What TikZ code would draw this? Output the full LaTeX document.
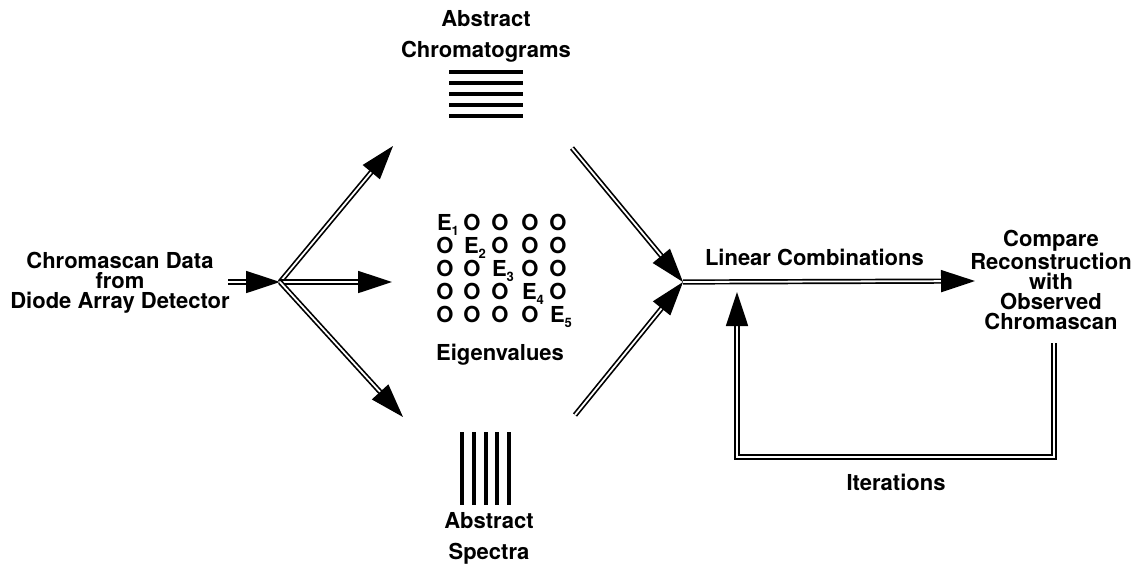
\documentclass[tikz,border=0pt]{standalone}
\usepackage{fontspec}
\setmainfont{TeX Gyre Heros}
\usetikzlibrary{arrows.meta}

\newcommand{\Ev}[1]{E\raisebox{-0.45ex}{\fontsize{6.5}{6.5}\selectfont #1}}

\begin{document}
\begin{tikzpicture}[x=0.5pt, y=-0.5pt,
    lbl/.style={font=\bfseries\fontsize{11}{10}\selectfont, align=center, inner sep=1pt},
    wide/.style={lbl, font=\bfseries\fontsize{11}{15.5}\selectfont},
    dbl/.style={double, double distance=0.9pt, line width=0.85pt},
    arrow/.style={dbl, -{Triangle[length=17pt, width=11pt]}},
    bar/.style={line width=1.8pt}
  ]
    \useasboundingbox (0,0) rectangle (1144,563);

    \node[lbl] (src) at (120,283) {Chromascan Data\\from\\Diode Array Detector};
    \node[wide] (chrom) at (486,36) {Abstract\\Chromatograms};
    \node[wide] (spec) at (489,538) {Abstract\\Spectra};
    \node[lbl] (eig) at (500,355) {Eigenvalues};
    \node[lbl] (cmp) at (1051,280) {Compare\\Reconstruction\\with\\Observed\\Chromascan};
    \node[lbl] (iter) at (896,482) {Iterations};

    % chromatogram and spectra bars
    \foreach \k in {0,...,4}
      \draw[bar] (449,{72+11*\k}) -- (523,{72+11*\k});
    \foreach \xx in {462,474,486,497,509}
      \draw[bar] (\xx,432) -- (\xx,505);

    % eigenvalue matrix
    \foreach \r in {1,...,5}{
      \foreach \c/\xx in {1/445,2/472,3/500,4/530,5/558}{
        \pgfmathtruncatemacro\yy{207+23*\r}
        \ifnum\r=\c
          \node[lbl, anchor=base, xshift=1.5pt] (g\r\c) at (\xx,\yy) {\Ev{\r}};
        \else
          \node[lbl, anchor=base] (g\r\c) at (\xx,\yy) {O};
        \fi
      }
    }

    \coordinate (in) at (228,282);
    \coordinate (split) at (280,282);
    \coordinate (toC) at (393,146);
    \coordinate (toE) at (392,282);
    \coordinate (toS) at (403,417);
    \coordinate (fromC) at (572,148);
    \coordinate (fromS) at (575,415);
    \coordinate (merge) at (683,282);
    \coordinate (toCmp) at (975,281);
    \coordinate (fbStart) at (1054,343);
    \coordinate (fbTurn) at (737,457);
    \coordinate (fbTip) at (737,292);

    \draw[arrow] (in) -- (split);
    \draw[arrow] (split) -- (toC);
    \draw[arrow] (split) -- (toE);
    \draw[arrow] (split) -- (toS);
    \draw[arrow] (fromC) -- (merge);
    \draw[arrow] (fromS) -- (merge);
    \draw[arrow] (merge) -- node[lbl, above=6.5pt, pos=0.45] (lin) {Linear Combinations} (toCmp);
    \draw[arrow] (fbStart) |- (fbTurn) -- (fbTip);
\end{tikzpicture}
\end{document}
